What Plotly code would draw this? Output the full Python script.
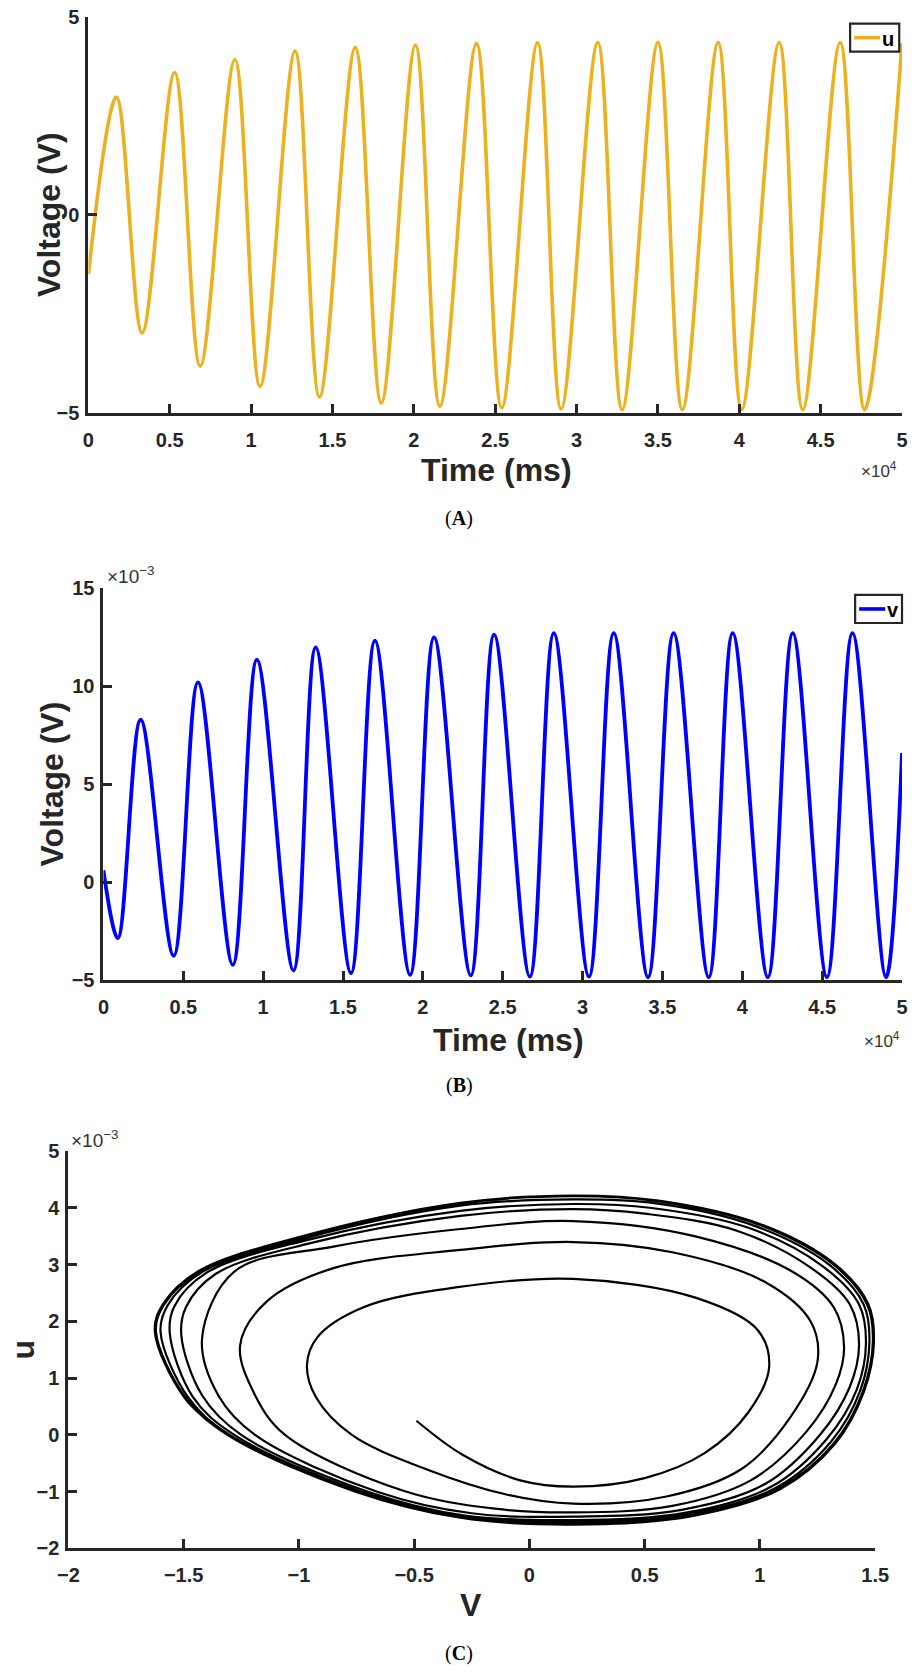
import plotly.graph_objects as go

# ---------------- data ----------------
# Panel A: u(t); time in units of 1e4 ms, extrema
time_a = [0, 0.172, 0.33, 0.53, 0.687, 0.90, 1.055, 1.27, 1.42, 1.64, 1.80, 2.01, 2.16,
          2.385, 2.54, 2.76, 2.905, 3.13, 3.28, 3.50, 3.65, 3.87, 4.015, 4.245, 4.39,
          4.62, 4.77, 5.0]
u_a = [-1.5, 2.97, -2.98, 3.59, -3.82, 3.92, -4.33, 4.13, -4.60, 4.22, -4.75, 4.28, -4.83,
       4.32, -4.87, 4.34, -4.90, 4.35, -4.92, 4.35, -4.92, 4.35, -4.92, 4.35, -4.92,
       4.35, -4.92, 4.33]

# Panel B: v(t); time in units of 1e4 ms, v in units of 1e-3 V
time_b = [0, 0.09, 0.233, 0.44, 0.592, 0.81, 0.961, 1.19, 1.329, 1.55, 1.70, 1.92, 2.07,
          2.30, 2.446, 2.67, 2.82, 3.04, 3.195, 3.41, 3.57, 3.79, 3.94, 4.16, 4.316,
          4.53, 4.69, 4.90, 5.0]
v_b = [0.6, -2.86, 8.28, -3.76, 10.19, -4.22, 11.34, -4.51, 11.97, -4.64, 12.31, -4.73, 12.48,
       -4.76, 12.62, -4.82, 12.70, -4.82, 12.70, -4.85, 12.70, -4.85, 12.70, -4.85, 12.70,
       -4.85, 12.70, -4.85, 6.58]

# Panel C: phase portrait (V, u in units of 1e-3), one row per loop
phase_V = [
    -0.49, -0.29, -0.04, 0.19, 0.50, 0.76, 0.95, 1.04, 0.99, 0.72, 0.19, -0.32, -0.72, -0.92, -0.965, -0.925,
    -0.77, -0.45, -0.10, 0.19, 0.60, 0.92, 1.13, 1.25, 1.22, 1.02, 0.62, 0.19, -0.30, -0.85, -1.14, -1.255, -1.19,
    -1.06, -0.55, -0.15, 0.19, 0.62, 0.96, 1.20, 1.33, 1.365, 1.32, 1.14, 0.72, 0.19, -0.30, -0.85, -1.28, -1.42, -1.35,
    -1.19, -0.66, -0.25, 0.19, 0.66, 1.02, 1.26, 1.39, 1.43, 1.39, 1.22, 0.90, 0.50, 0.19, -0.30, -0.95, -1.36, -1.49, -1.51, -1.42,
    -1.25, -0.70, -0.28, 0.19, 0.68, 1.05, 1.29, 1.42, 1.46, 1.43, 1.27, 0.95, 0.53, 0.19, -0.30, -0.97, -1.40, -1.54, -1.56, -1.46,
    -1.28, -0.73, -0.29, 0.19, 0.69, 1.07, 1.31, 1.435, 1.475, 1.45, 1.30, 0.98, 0.55, 0.19, -0.30, -0.98, -1.42, -1.57, -1.60, -1.48,
    -1.30, -0.75, -0.30, 0.19, 0.70, 1.08, 1.32, 1.445, 1.49, 1.465, 1.32, 1.00, 0.557, 0.19, -0.30, -0.99, -1.43, -1.586, -1.62, -1.49,
    -1.31, -0.755, -0.30, 0.19, 0.705, 1.085, 1.325, 1.45, 1.495, 1.47, 1.325, 1.005, 0.56, 0.19, -0.30, -0.995, -1.435, -1.59, -1.625, -1.495, -1.31,
]
phase_u = [
    0.25, -0.35, -0.80, -0.91, -0.76, -0.32, 0.40, 1.20, 1.85, 2.42, 2.75, 2.60, 2.25, 1.72, 1.23, 0.66,
    0.0, -0.60, -1.05, -1.21, -1.08, -0.60, 0.30, 1.30, 2.00, 2.70, 3.22, 3.40, 3.26, 2.94, 2.35, 1.58, 0.70,
    0.0, -0.98, -1.30, -1.365, -1.25, -0.80, 0.05, 0.90, 1.55, 2.25, 2.88, 3.50, 3.77, 3.63, 3.32, 2.88, 1.70, 0.70,
    0.0, -1.00, -1.38, -1.44, -1.32, -0.87, 0.0, 0.85, 1.60, 2.30, 2.95, 3.60, 3.90, 3.98, 3.86, 3.38, 2.84, 2.25, 1.76, 0.70,
    0.0, -1.00, -1.42, -1.50, -1.37, -0.91, -0.07, 0.80, 1.62, 2.30, 2.98, 3.65, 4.00, 4.07, 3.95, 3.43, 2.86, 2.27, 1.79, 0.67,
    0.0, -1.00, -1.44, -1.54, -1.40, -0.93, -0.11, 0.78, 1.64, 2.30, 3.00, 3.68, 4.08, 4.15, 4.04, 3.46, 2.87, 2.28, 1.81, 0.66,
    0.0, -1.00, -1.45, -1.57, -1.42, -0.95, -0.15, 0.75, 1.65, 2.30, 3.00, 3.70, 4.12, 4.21, 4.08, 3.48, 2.88, 2.29, 1.82, 0.65,
    0.0, -1.00, -1.46, -1.58, -1.43, -0.96, -0.16, 0.75, 1.66, 2.31, 3.01, 3.71, 4.13, 4.22, 4.09, 3.49, 2.89, 2.30, 1.83, 0.65, 0.0,
]

time_ticks = [0, 0.5, 1, 1.5, 2, 2.5, 3, 3.5, 4, 4.5, 5]
time_ticktext = ["0", "0.5", "1", "1.5", "2", "2.5", "3", "3.5", "4", "4.5", "5"]
a_yticks = [-5, 0, 5]
a_yticktext = ["−5", "0", "5"]
b_yticks = [-5, 0, 5, 10, 15]
b_yticktext = ["−5", "0", "5", "10", "15"]
c_xticks = [-2, -1.5, -1, -0.5, 0, 0.5, 1, 1.5]
c_xticktext = ["−2", "−1.5", "−1", "−0.5", "0", "0.5", "1", "1.5"]
c_yticks = [-2, -1, 0, 1, 2, 3, 4, 5]
c_yticktext = ["−2", "−1", "0", "1", "2", "3", "4", "5"]

# ---------------- layout helpers ----------------
W, H = 916, 1675

# target pixel positions (reference picture) -> figure pixel positions
# (small empirical calibration of the photographed page)
def fx(p):
    return min(W, max(0.0, 1.0304 * p - 11.1))
def fy(p):
    return min(H, max(0.0, 1.0138 * p - 13.5))
def X(p):
    return fx(p) / W
def Y(p):
    return 1 - fy(p) / H

AX = "#262626"
SANS = "Arial, Liberation Sans, sans-serif"
SERIF = "Palatino Linotype, Liberation Serif, serif"
tickfont = dict(family=SANS, size=20, color=AX)

def bold(lst):
    return ["<b>%s</b>" % s for s in lst]

def axis(**kw):
    base = dict(showline=True, linewidth=3, linecolor=AX, ticks="inside", ticklen=9,
                tickwidth=3, tickcolor=AX, showgrid=False, zeroline=False, mirror=False,
                tickfont=tickfont, fixedrange=True)
    base.update(kw)
    return base

fig = go.Figure()
fig.add_trace(go.Scatter(x=time_a, y=u_a, mode="lines", name="u", showlegend=False,
                         line=dict(color="#EDB120", width=3.6, shape="spline", smoothing=1),
                         xaxis="x", yaxis="y"))
fig.add_trace(go.Scatter(x=time_b, y=v_b, mode="lines", name="v", showlegend=False,
                         line=dict(color="#0000FF", width=3.8, shape="spline", smoothing=1),
                         xaxis="x2", yaxis="y2"))
fig.add_trace(go.Scatter(x=phase_V, y=phase_u, mode="lines", name="phase", showlegend=False,
                         line=dict(color="#000000", width=2.2, shape="spline", smoothing=1),
                         xaxis="x3", yaxis="y3"))

fig.update_layout(
    width=W, height=H, margin=dict(l=0, r=0, t=0, b=0),
    paper_bgcolor="white", plot_bgcolor="white", showlegend=False,
    xaxis=axis(domain=[X(88), X(903)], range=[0, 5], tickvals=time_ticks, ticktext=bold(time_ticktext),
               anchor="y", ticklabelstandoff=7),
    yaxis=axis(domain=[Y(415), Y(19)], range=[-5, 5], tickvals=a_yticks, ticktext=bold(a_yticktext),
               anchor="x", ticklabelstandoff=2),
    xaxis2=axis(domain=[X(103), X(911)], range=[0, 5], tickvals=time_ticks, ticktext=bold(time_ticktext),
                anchor="y2", ticklabelstandoff=7),
    yaxis2=axis(domain=[Y(982), Y(590)], range=[-5, 15], tickvals=b_yticks, ticktext=bold(b_yticktext),
                anchor="x2", ticklabelstandoff=2),
    xaxis3=axis(domain=[X(68), X(873)], range=[-2, 1.5], tickvals=c_xticks, ticktext=bold(c_xticktext),
                anchor="y3", ticklabelstandoff=7),
    yaxis3=axis(domain=[Y(1550), Y(1153)], range=[-2, 5], tickvals=c_yticks, ticktext=bold(c_yticktext),
                anchor="x3", ticklabelstandoff=2),
)

ann = []
def note(x, y, text, size=19, family=SANS, xanchor="center", color=AX, angle=0):
    ann.append(dict(x=X(x), y=Y(y), xref="paper", yref="paper", text=text, showarrow=False,
                    xanchor=xanchor, yanchor="middle", textangle=angle,
                    font=dict(family=family, size=size, color=color)))

# axis titles
note(495, 472, "<b>Time (ms)</b>", size=32)
note(48, 217, "<b>Voltage (V)</b>", size=32, angle=-90)
note(507, 1042, "<b>Time (ms)</b>", size=32)
note(52, 786, "<b>Voltage (V)</b>", size=32, angle=-90)
note(470, 1607, "<b>V</b>", size=32)
note(23, 1351, "<b>u</b>", size=32, angle=-90)

# exponent labels
note(877, 472, "×10<sup>4</sup>", size=17, color="#333333")
note(907, 1042, "×10<sup>4</sup>", size=17, xanchor="right", color="#333333")
note(105, 577, "×10<sup>−3</sup>", size=19, xanchor="left", color="#333333")
note(69, 1141, "×10<sup>−3</sup>", size=19, xanchor="left", color="#333333")

# captions
note(458, 521, "(<b>A</b>)", size=20, family=SERIF, color="black")
note(458, 1087, "(<b>B</b>)", size=20, family=SERIF, color="black")
note(458, 1655, "(<b>C</b>)", size=20, family=SERIF, color="black")

# legends (box, sample line, label)
shapes = []
def legend(x0, x1, y0, y1, color, label):
    shapes.append(dict(type="rect", xref="paper", yref="paper", x0=X(x0), x1=X(x1), y0=Y(y1), y1=Y(y0),
                       line=dict(color=AX, width=2.2), fillcolor="white", layer="above"))
    ym = (y0 + y1) / 2
    shapes.append(dict(type="line", xref="paper", yref="paper", x0=X(x0 + 4), x1=X(x0 + 30),
                       y0=Y(ym), y1=Y(ym), line=dict(color=color, width=3.6), layer="above"))
    note(x0 + 38, ym + 1, "<b>%s</b>" % label, size=20, color="black")

legend(848, 897, 26, 54, "#EDB120", "u")
legend(853, 901, 597, 625, "#0000FF", "v")

fig.update_layout(annotations=ann, shapes=shapes)
fig.write_html("out.html", config={"displayModeBar": False},
               post_script="document.body.style.margin='0';document.body.style.overflow='hidden';")
